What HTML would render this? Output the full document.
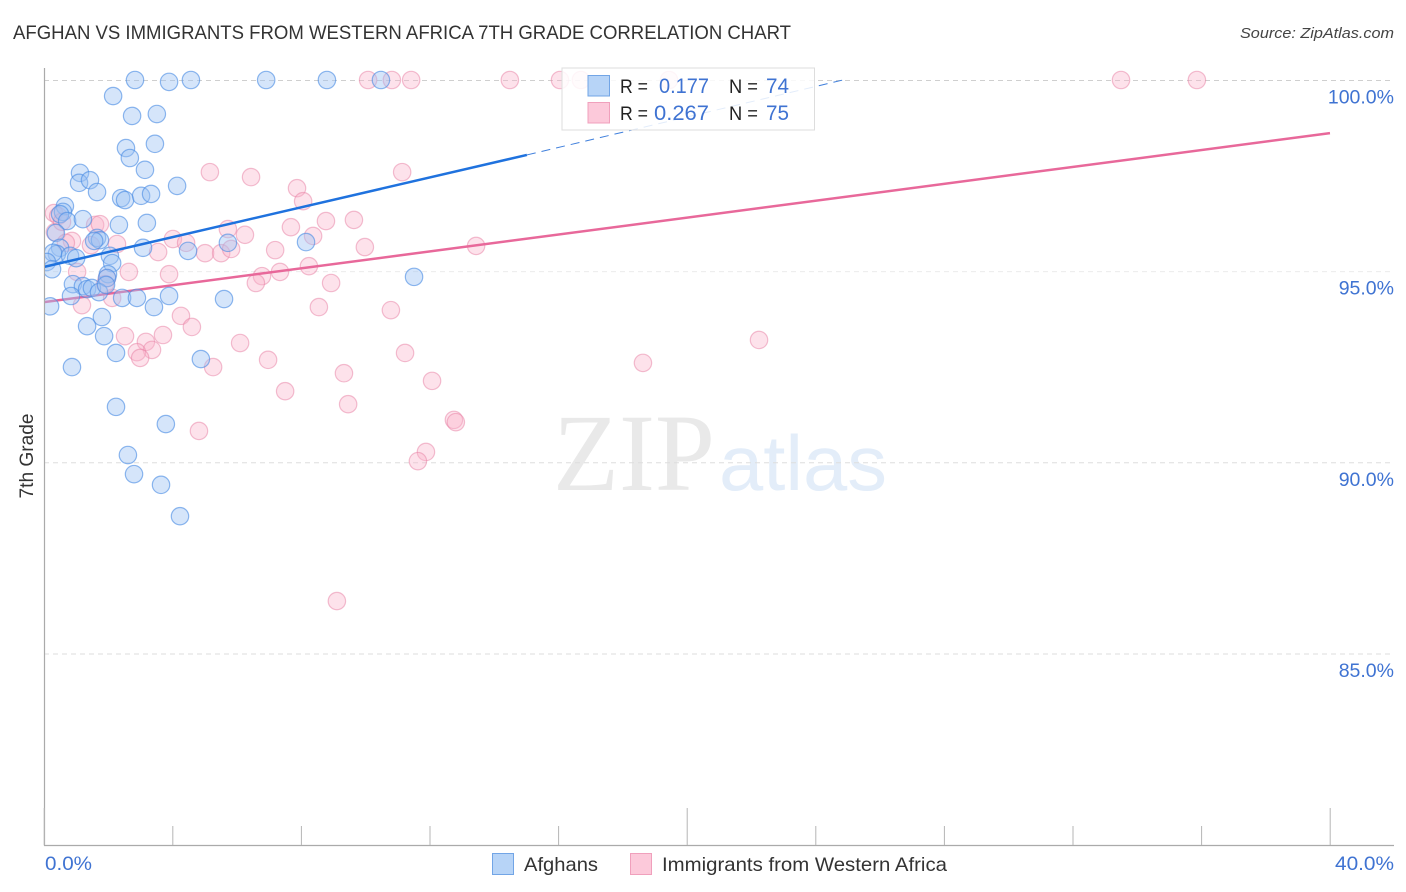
<!DOCTYPE html>
<html lang="en">
<head>
<meta charset="utf-8">
<title>Afghan vs Immigrants from Western Africa 7th Grade Correlation Chart</title>
<style>
html,body{margin:0;padding:0;background:#fff;}
svg{display:block;font-family:"Liberation Sans",sans-serif;}
</style>
</head>
<body>
<svg id="chart" width="1406" height="892" viewBox="0 0 1406 892" xmlns="http://www.w3.org/2000/svg">
  <defs>
    <clipPath id="plot-clip"><rect x="45" y="60" width="1349" height="786"/></clipPath>
  </defs>
  <text x="13" y="39" font-size="19" fill="#333" textLength="778" lengthAdjust="spacingAndGlyphs">AFGHAN VS IMMIGRANTS FROM WESTERN AFRICA 7TH GRADE CORRELATION CHART</text>
  <text x="1394" y="38" font-size="15" font-style="italic" fill="#444" text-anchor="end" textLength="154" lengthAdjust="spacingAndGlyphs">Source: ZipAtlas.com</text>
  <g>
    <text x="553" y="490" font-family="'Liberation Serif',serif" font-size="110" fill="#e9e9e9" textLength="162" lengthAdjust="spacingAndGlyphs">ZIP</text>
    <text x="719" y="490" font-size="78" fill="#e3edf9" textLength="168" lengthAdjust="spacingAndGlyphs">atlas</text>
  </g>
  <g id="grid"></g>
  <g id="axes">
    <line x1="44.5" y1="68" x2="44.5" y2="846" stroke="#aaa" stroke-width="1.2"/>
    <line x1="44" y1="845.5" x2="1394" y2="845.5" stroke="#aaa" stroke-width="1.2"/>
  </g>
  <g id="xticks"></g>
  <g clip-path="url(#plot-clip)">
    <g id="pink-points"></g>
    <g id="pink-trend"></g>
    <g id="blue-points"></g>
    <g id="blue-trend"></g>
  </g>
  <g id="ylabels"></g>
  <text transform="translate(33,456) rotate(-90)" font-size="19" fill="#333" text-anchor="middle" textLength="85" lengthAdjust="spacingAndGlyphs">7th Grade</text>
  <text x="45" y="870" font-size="19" fill="#3f73d2" textLength="47" lengthAdjust="spacingAndGlyphs">0.0%</text>
  <text x="1394" y="870" font-size="19" fill="#3f73d2" text-anchor="end" textLength="59" lengthAdjust="spacingAndGlyphs">40.0%</text>
  <g>
    <rect x="562" y="68" width="252.5" height="62" fill="#fff" fill-opacity="0.85" stroke="#ddd" stroke-width="1"/>
    <rect x="588" y="75.500" width="21.500" height="20.500" fill="#b7d4f7" stroke="#72a5e6" stroke-width="1"/>
    <rect x="588" y="102.500" width="21.500" height="20.500" fill="#fcc9da" stroke="#f0a0bc" stroke-width="1"/>
    <text x="620" y="93" font-size="19" fill="#222" textLength="28" lengthAdjust="spacingAndGlyphs">R =</text>
    <text x="709" y="93" font-size="21" fill="#3f73d2" text-anchor="end" textLength="50" lengthAdjust="spacingAndGlyphs">0.177</text>
    <text x="729" y="93" font-size="19" fill="#222" textLength="29" lengthAdjust="spacingAndGlyphs">N =</text>
    <text x="766" y="93" font-size="21" fill="#3f73d2" textLength="23" lengthAdjust="spacingAndGlyphs">74</text>
    <text x="620" y="120" font-size="19" fill="#222" textLength="28" lengthAdjust="spacingAndGlyphs">R =</text>
    <text x="709" y="120" font-size="21" fill="#3f73d2" text-anchor="end" textLength="55" lengthAdjust="spacingAndGlyphs">0.267</text>
    <text x="729" y="120" font-size="19" fill="#222" textLength="29" lengthAdjust="spacingAndGlyphs">N =</text>
    <text x="766" y="120" font-size="21" fill="#3f73d2" textLength="23" lengthAdjust="spacingAndGlyphs">75</text>
  </g>
  <g>
    <rect x="492.500" y="853.500" width="21" height="21" fill="#b7d4f7" stroke="#72a5e6" stroke-width="1"/>
    <text x="524" y="871" font-size="19.500" fill="#333" textLength="74" lengthAdjust="spacingAndGlyphs">Afghans</text>
    <rect x="630.500" y="853.500" width="21" height="21" fill="#fcc9da" stroke="#f0a0bc" stroke-width="1"/>
    <text x="662" y="871" font-size="19.500" fill="#333" textLength="285" lengthAdjust="spacingAndGlyphs">Immigrants from Western Africa</text>
  </g>
</svg>
<script>
const yTicks = [100, 95, 90, 85];
const yTickLabels = ["100.0%", "95.0%", "90.0%", "85.0%"];
const xTicks = [0, 4, 8, 12, 16, 20, 24, 28, 32, 36, 40];
const xMajorTicks = [0, 20, 40];

const afghanX = [2.83,3.89,4.57,6.91,8.80,10.48,2.15,2.74,3.51,3.45,2.55,2.67,3.14,1.12,1.09,1.43,1.65,2.40,2.52,3.02,3.33,4.14,0.65,0.59,0.50,0.72,1.21,2.33,3.20,0.37,1.65,1.74,1.56,3.08,4.48,5.72,8.15,0.50,0.40,0.28,0.09,0.25,0.81,1.00,2.05,2.12,1.99,1.96,11.51,0.90,1.21,1.34,1.49,1.71,1.93,0.84,2.43,2.89,3.42,3.89,5.60,0.19,1.80,1.34,1.87,2.24,4.88,0.87,2.24,3.79,2.61,2.80,3.64,4.23];
const afghanY = [100,99.95,100,100,100,100,99.58,99.06,99.11,98.33,98.22,97.96,97.65,97.57,97.31,97.38,97.07,96.91,96.86,96.97,97.02,97.23,96.70,96.55,96.49,96.31,96.36,96.21,96.26,96.00,95.87,95.81,95.79,95.61,95.53,95.74,95.76,95.61,95.45,95.48,95.24,95.05,95.40,95.34,95.40,95.21,94.92,94.82,94.85,94.66,94.61,94.53,94.56,94.45,94.64,94.35,94.30,94.30,94.06,94.35,94.27,94.08,93.80,93.56,93.30,92.86,92.70,92.49,91.45,91.00,90.19,89.69,89.41,88.59];

const immigrantX = [10.08,10.82,11.42,14.49,16.05,16.70,19.44,33.50,35.86,5.16,6.44,7.87,8.06,11.14,0.31,0.44,0.34,1.59,1.74,5.72,6.25,7.68,8.77,9.64,8.37,9.98,13.44,0.87,0.68,2.27,1.46,4.01,4.42,7.19,3.55,5.01,5.51,5.82,8.24,7.34,6.78,6.59,8.93,2.64,3.89,1.03,1.96,8.55,10.79,1.18,2.12,1.90,4.26,4.60,2.52,3.70,3.17,3.36,2.89,2.99,6.10,6.97,5.26,11.23,9.33,18.63,22.24,12.07,7.50,9.46,12.75,12.81,4.82,11.88,11.63,9.11,0.56];
const immigrantY = [100,100,100,100,100,100,100,100,100,97.59,97.46,97.17,96.83,97.59,96.52,96.44,96.02,96.21,96.23,96.10,95.95,96.15,96.31,96.34,95.92,95.63,95.66,95.79,95.74,95.71,95.68,95.84,95.74,95.55,95.50,95.47,95.47,95.58,95.13,94.98,94.87,94.69,94.69,94.98,94.92,94.98,94.82,94.06,93.98,94.11,94.30,94.66,93.83,93.54,93.30,93.33,93.15,92.94,92.88,92.73,93.12,92.68,92.49,92.86,92.33,92.60,93.20,92.13,91.86,91.52,91.11,91.05,90.82,90.27,90.03,86.37,96.29];

const afghanTrendX = [0, 15.02];
const afghanTrendY = [95.11, 98.04];
const afghanTrendDashX = [15.02, 24.85];
const afghanTrendDashY = [98.04, 100];
const immigrantTrendX = [0, 40];
const immigrantTrendY = [94.19, 98.61];

const NS = 'http://www.w3.org/2000/svg';
function xScale(v) { return 44 + v * 32.15; }
function yScale(v) { return 80 + (100 - v) * 38.23; }
function make(parent, tag, props) {
  const el = document.createElementNS(NS, tag);
  for (const k in props) el.setAttribute(k, props[k]);
  document.getElementById(parent).appendChild(el);
  return el;
}

yTicks.forEach(function (t, i) {
  const line = make('grid', 'line', {
    x1: 44, x2: 1394, y1: yScale(t) + 0.5, y2: yScale(t) + 0.5,
    stroke: t === 100 ? '#cfcfcf' : (t === 95 ? '#ececec' : '#dedede'),
    'stroke-width': 1, 'stroke-dasharray': '5 4'
  });
  
  

  const label = make('ylabels', 'text', {
    x: 1394, y: yScale(t) + 23.5, 'font-size': 19.5, fill: '#3f73d2', 'text-anchor': 'end'
  });
  label.textContent = yTickLabels[i];
  
  
});

xTicks.forEach(function (t) {
  const major = xMajorTicks.indexOf(t) >= 0;
  const tick = make('xticks', 'line', {
    x1: xScale(t) + 0.2, x2: xScale(t) + 0.2, y1: major ? 808 : 826, y2: 845,
    stroke: '#b5b5b5', 'stroke-width': 1
  });
  
  
});

immigrantX.forEach(function (v, i) {
  const dot = make('pink-points', 'circle', {
    cx: xScale(v), cy: yScale(immigrantY[i]), r: 8.7,
    fill: '#fab4cb', 'fill-opacity': 0.38,
    stroke: '#e87fa3', 'stroke-opacity': 0.5, 'stroke-width': 1.2
  });
  
  
});

const immigrantLine = make('pink-trend', 'line', {
  x1: xScale(immigrantTrendX[0]), y1: yScale(immigrantTrendY[0]),
  x2: xScale(immigrantTrendX[1]), y2: yScale(immigrantTrendY[1]),
  stroke: '#e8689a', 'stroke-width': 2.5
});



afghanX.forEach(function (v, i) {
  const dot = make('blue-points', 'circle', {
    cx: xScale(v), cy: yScale(afghanY[i]), r: 8.7,
    fill: '#9cc2f2', 'fill-opacity': 0.42,
    stroke: '#4a8ce4', 'stroke-opacity': 0.62, 'stroke-width': 1.2
  });
  
  
});

const afghanDash = make('blue-trend', 'line', {
  x1: xScale(afghanTrendDashX[0]), y1: yScale(afghanTrendDashY[0]),
  x2: xScale(afghanTrendDashX[1]), y2: yScale(afghanTrendDashY[1]),
  stroke: '#3f7fdc', 'stroke-width': 1, 'stroke-dasharray': '9 6'
});



const afghanLine = make('blue-trend', 'line', {
  x1: xScale(afghanTrendX[0]), y1: yScale(afghanTrendY[0]),
  x2: xScale(afghanTrendX[1]), y2: yScale(afghanTrendY[1]),
  stroke: '#1f72de', 'stroke-width': 2.5
});


</script>
</body>
</html>
